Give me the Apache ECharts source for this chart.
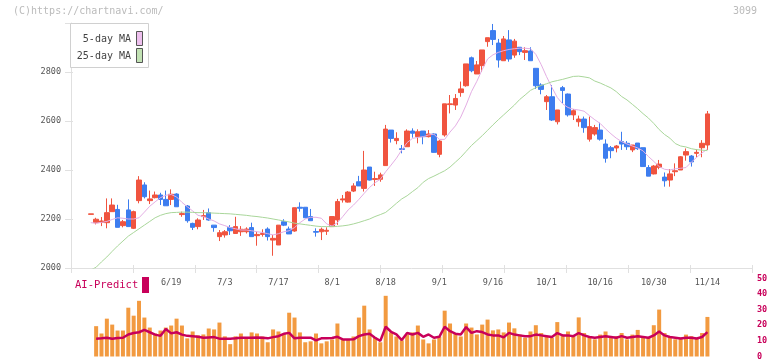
<!DOCTYPE html>
<html><head><meta charset="utf-8">
<script src="https://cdn.jsdelivr.net/npm/echarts@6/dist/echarts.min.js"></script>
<style>html,body{margin:0;padding:0;background:#fff}#c{width:772px;height:361px}</style>
</head><body><div id="c"></div><script>
// ---- data ----
const opens  = [2219,2185,2186,2185,2230,2239,2173,2237,2162,2275,2339,2275,2287,2298,2280,2280,2302,2218,2253,2182,2169,2210,2226,2175,2128,2135,2165,2141,2148,2148,2165,2132,2137,2159,2114,2094,2189,2159,2151,2248,2248,2210,2149,2148,2150,2169,2196,2278,2269,2314,2352,2325,2412,2361,2362,2418,2563,2520,2487,2495,2559,2536,2559,2536,2547,2464,2543,2667,2665,2716,2744,2858,2792,2826,2924,2969,2918,2846,2931,2869,2901,2880,2886,2815,2747,2679,2699,2597,2736,2710,2625,2597,2608,2526,2547,2563,2506,2491,2490,2516,2509,2482,2510,2491,2410,2384,2411,2371,2359,2393,2400,2461,2457,2468,2491,2502];
const closes = [2221,2199,2192,2226,2257,2166,2189,2169,2230,2359,2291,2282,2298,2280,2254,2301,2250,2222,2193,2166,2196,2214,2196,2165,2144,2148,2152,2169,2158,2159,2128,2137,2141,2128,2121,2175,2175,2139,2246,2244,2205,2193,2146,2158,2154,2210,2271,2282,2310,2335,2335,2400,2359,2365,2380,2567,2529,2529,2484,2559,2550,2556,2536,2547,2472,2518,2670,2670,2692,2731,2833,2805,2829,2890,2940,2933,2849,2935,2853,2926,2883,2887,2846,2744,2729,2699,2604,2645,2725,2625,2642,2608,2573,2577,2573,2526,2448,2479,2498,2506,2495,2502,2487,2414,2375,2416,2424,2356,2384,2397,2454,2475,2433,2472,2509,2629];
const lows   = [2219,2178,2171,2162,2230,2166,2166,2169,2159,2264,2284,2261,2284,2257,2254,2257,2250,2209,2185,2155,2158,2196,2193,2148,2110,2124,2135,2141,2131,2141,2128,2091,2128,2112,2050,2094,2171,2139,2148,2230,2203,2193,2128,2114,2135,2169,2176,2267,2267,2310,2335,2312,2357,2335,2352,2418,2512,2505,2468,2495,2532,2509,2505,2533,2471,2452,2536,2631,2645,2699,2740,2799,2792,2800,2903,2910,2818,2846,2842,2858,2869,2849,2846,2731,2709,2645,2600,2586,2672,2618,2604,2577,2552,2516,2540,2520,2430,2448,2472,2482,2482,2473,2482,2414,2375,2382,2403,2332,2332,2375,2400,2438,2414,2452,2452,2482];
const highs  = [2221,2205,2208,2284,2284,2258,2196,2280,2234,2375,2350,2316,2312,2307,2316,2321,2305,2230,2257,2185,2203,2237,2243,2175,2155,2155,2175,2209,2171,2166,2185,2148,2158,2166,2135,2175,2199,2169,2246,2268,2248,2241,2162,2165,2166,2210,2282,2298,2314,2346,2376,2478,2412,2393,2389,2584,2563,2554,2502,2566,2570,2566,2559,2563,2550,2522,2670,2706,2710,2761,2833,2863,2845,2890,2940,2996,2935,2947,2971,2935,2901,2901,2901,2815,2754,2706,2747,2645,2743,2712,2649,2622,2618,2618,2584,2593,2525,2498,2502,2556,2518,2502,2510,2491,2420,2420,2441,2390,2404,2427,2457,2488,2461,2484,2522,2641];
const ma5    = [2185,2183,2186,2190,2198,2205,2203,2200,2200,2205,2228,2252,2270,2287,2297,2300,2290,2268,2250,2233,2215,2210,2200,2192,2180,2173,2165,2160,2155,2155,2152,2148,2145,2140,2135,2140,2148,2152,2165,2185,2200,2207,2207,2203,2180,2171,2185,2210,2237,2257,2280,2305,2329,2348,2362,2393,2420,2448,2482,2512,2529,2533,2536,2543,2546,2525,2525,2555,2580,2616,2665,2720,2762,2810,2853,2870,2880,2887,2892,2895,2897,2897,2895,2872,2830,2781,2737,2696,2670,2655,2648,2645,2640,2622,2605,2590,2568,2548,2530,2516,2506,2498,2490,2478,2455,2435,2414,2403,2400,2405,2407,2410,2432,2452,2470,2485];
const ma25   = [1992,2003,2025,2045,2068,2090,2110,2130,2145,2160,2175,2190,2205,2215,2222,2226,2227,2228,2228,2227,2226,2226,2225,2224,2223,2222,2221,2219,2217,2215,2212,2210,2207,2204,2200,2196,2192,2188,2183,2180,2177,2174,2171,2169,2169,2169,2170,2172,2175,2180,2186,2193,2200,2210,2218,2227,2245,2264,2282,2295,2312,2328,2350,2365,2375,2386,2397,2412,2432,2452,2476,2500,2520,2540,2562,2584,2605,2625,2645,2665,2688,2706,2725,2736,2745,2752,2760,2765,2770,2776,2782,2783,2780,2776,2763,2755,2745,2735,2720,2700,2686,2668,2650,2630,2612,2590,2565,2545,2530,2508,2498,2494,2487,2483,2481,2479];
const volume = [null,19.4,14.7,24.2,20.4,16.6,16.6,31.2,26.1,35.6,24.9,18.5,14.7,16.6,18.5,19.8,24.2,19.8,11.6,16.0,13.5,14.1,17.9,17.3,21.7,12.9,7.9,12.9,14.7,12.2,15.4,14.7,12.8,9.1,17.3,16.0,14.7,28.0,24.9,15.4,9.1,9.7,14.7,8.4,9.7,10.9,21.1,10.9,10.9,12.8,24.9,32.5,17.3,12.2,9.1,38.8,15.4,12.8,10.3,14.1,15.4,19.8,10.9,8.4,10.9,12.8,29.3,21.1,14.7,12.8,21.1,18.5,14.1,20.4,23.6,16.7,17.3,15.4,21.7,18,14,12,16,20,15,13,12,22,14,16,13,25,15,12,11,14,16,12,13,15,11,14,17,13,12,20,30,15,13,11,12,14,13,12,15,25.3];
const aiPredict = [null,11.4,11.6,12.0,11.4,11.8,12.0,14.1,15.0,15.5,17.0,15.5,14.0,13.2,17.6,14.8,15.5,14.0,13.2,13.0,12.6,12.0,12.2,12.4,11.4,11.4,11.4,11.6,12.0,12.0,12.0,12.2,12.0,11.6,12.4,13.0,14.5,15.1,11.6,12.0,12.0,12.0,10.3,11.6,11.6,11.8,12.6,10.9,10.9,11.0,13.0,14.1,14.5,12.0,10.0,19.0,15.8,14.1,10.5,15.0,14.1,15.1,12.6,14.1,12.0,12.6,19.0,16.2,14.6,14.1,18.8,15.1,16.2,15.6,14.1,13.5,13.5,12.2,15.1,14,13.5,13,13,14,13.5,13,12.5,15,13.5,13.5,13,15,13.5,12.5,12,12.5,13,12.5,12,13,12,12.5,13,12.5,12,13.5,16,13.5,12.5,12,11.5,12,12,11.5,12.5,15.6];
const dateLabels = ['6/19','7/3','7/17','8/1','8/18','9/1','9/16','10/1','10/16','10/30','11/14'];
const dateLabelIndex = [15,25,35,45,55,65,75,85,95,105,115];
const priceTicks = [2000,2200,2400,2600,2800];
const aiTicks = [0,10,20,30,40,50];

// ---- layout ----
const PADL = 3, SLOTS = 127;
const cats = [];
for (let k = 0; k < SLOTS; k++) cats.push(String(k));
function padded(arr, fn) {
  const out = [];
  for (let k = 0; k < SLOTS; k++) {
    const i = k - PADL;
    out.push(i >= 0 && i < arr.length ? fn(i) : '-');
  }
  return out;
}
const candleData = padded(opens, i => [opens[i], closes[i], lows[i], highs[i]]);
const ma5Data = padded(ma5, i => ma5[i]);
const ma25Data = padded(ma25, i => ma25[i]);
const volData = padded(volume, i => volume[i] == null ? '-' : volume[i]);
const aiData = padded(aiPredict, i => aiPredict[i] == null ? '-' : aiPredict[i]);

const MONO = 'DejaVu Sans Mono';
const MAG = '#c8005a';
const AX = '#e0e0e0';
const chart = echarts.init(document.getElementById('c'), null, {renderer: 'canvas'});
chart.setOption({
  animation: false,
  backgroundColor: '#fff',
  grid: [
    {left: 71, right: 20, top: 23, bottom: 93},
    {left: 72, width: 681, top: 23, bottom: 93},
    {left: 72, width: 681, top: 278.3, height: 79}
  ],
  xAxis: [
    {gridIndex: 0, type: 'value', position: 'bottom', min: 0, max: 11, interval: 1,
     axisLine: {lineStyle: {color: AX, width: 1}},
     axisTick: {length: 5, lineStyle: {color: AX}},
     axisLabel: {show: false}, splitLine: {show: false}},
    {gridIndex: 1, type: 'category', position: 'bottom', data: cats, boundaryGap: true,
     axisLine: {show: false}, axisTick: {show: false}, splitLine: {show: false},
     axisLabel: {
       interval: (idx) => dateLabelIndex.indexOf(idx - PADL) >= 0,
       formatter: (v) => { const j = dateLabelIndex.indexOf(Number(v) - PADL); return j >= 0 ? dateLabels[j] : ''; },
       color: '#555', fontFamily: MONO, fontSize: 8.5, margin: 10
     }},
    {gridIndex: 2, type: 'category', data: cats, boundaryGap: true, show: false},
    {gridIndex: 0, type: 'value', position: 'bottom', min: 0, max: 11, interval: 1,
     axisLine: {show: false},
     axisTick: {inside: true, length: 3, lineStyle: {color: AX}},
     axisLabel: {show: false}, splitLine: {show: false}}
  ],
  yAxis: [
    {gridIndex: 0, type: 'value', position: 'left', min: 2000, max: 3000, interval: 200,
     axisLine: {show: true, lineStyle: {color: AX}},
     axisTick: {show: true, length: 6, lineStyle: {color: AX}},
     splitLine: {show: false},
     axisLabel: {color: '#555', fontFamily: MONO, fontSize: 8.5, margin: 10,
       formatter: (v) => priceTicks.indexOf(v) >= 0 ? String(v) : ''}},
    {gridIndex: 1, type: 'value', min: 2000, max: 3000, show: false},
    {gridIndex: 2, type: 'value', min: 0, max: 50, interval: 10, position: 'right',
     axisLine: {show: false}, axisTick: {show: false}, splitLine: {show: false},
     axisLabel: {color: MAG, fontFamily: MONO, fontSize: 8.5, fontWeight: 'bold', margin: 4,
       formatter: (v) => aiTicks.indexOf(v) >= 0 ? String(v) : ''}},
    {gridIndex: 0, type: 'value', position: 'left', min: 2000, max: 3000, interval: 200,
     axisLine: {show: false},
     axisTick: {show: true, inside: true, length: 2, lineStyle: {color: AX}},
     axisLabel: {show: false}, splitLine: {show: false}}
  ],
  series: [
    {type: 'candlestick', xAxisIndex: 1, yAxisIndex: 1, data: candleData, barWidth: 5,
     itemStyle: {color: '#f0543f', color0: '#3d7def', borderColor: '#f0543f', borderColor0: '#3d7def', borderWidth: 1}},
    {type: 'line', xAxisIndex: 1, yAxisIndex: 1, data: ma5Data, symbol: 'none',
     lineStyle: {color: '#e4aee4', width: 1}},
    {type: 'line', xAxisIndex: 1, yAxisIndex: 1, data: ma25Data, symbol: 'none',
     lineStyle: {color: '#a9d69a', width: 1}},
    {type: 'bar', xAxisIndex: 2, yAxisIndex: 2, data: volData, barWidth: 4,
     itemStyle: {color: '#f29a40'}},
    {type: 'line', xAxisIndex: 2, yAxisIndex: 2, data: aiData, symbol: 'none',
     lineStyle: {color: MAG, width: 2.5}}
  ],
  graphic: [
    {type: 'text', left: 13, top: 6, style: {text: '(C)https://chartnavi.com/', fill: '#bbb', font: '10px ' + MONO}},
    {type: 'text', right: 15, top: 6, style: {text: '3099', fill: '#bbb', font: '10px ' + MONO}},
    {type: 'rect', shape: {x: 70.5, y: 23.5, width: 78, height: 44}, style: {fill: '#fff', stroke: '#d0d0d0', lineWidth: 1}, z: 100},
    {type: 'text', x: 131, y: 39, style: {text: '5-day MA', fill: '#444', font: '10px ' + MONO, textAlign: 'right', textVerticalAlign: 'middle'}, z: 101},
    {type: 'text', x: 131, y: 56, style: {text: '25-day MA', fill: '#444', font: '10px ' + MONO, textAlign: 'right', textVerticalAlign: 'middle'}, z: 101},
    {type: 'rect', shape: {x: 136.5, y: 31.5, width: 6, height: 14}, style: {fill: '#eec0ee', stroke: '#555', lineWidth: 1}, z: 101},
    {type: 'rect', shape: {x: 136.5, y: 48.5, width: 6, height: 14}, style: {fill: '#c2e2b4', stroke: '#555', lineWidth: 1}, z: 101},
    {type: 'text', x: 75, y: 285, style: {text: 'AI-Predict', fill: MAG, font: '10.5px ' + MONO, textVerticalAlign: 'middle'}},
    {type: 'rect', shape: {x: 142, y: 277, width: 7, height: 16}, style: {fill: MAG}}
  ]
});
</script></body></html>
